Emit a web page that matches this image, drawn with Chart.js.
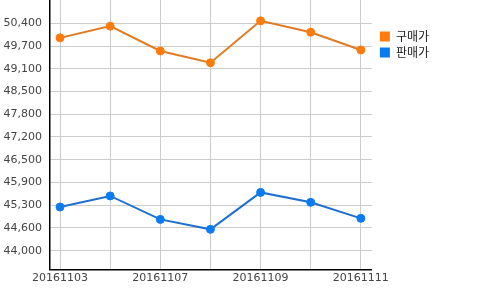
<!DOCTYPE html>
<html>
<head>
<meta charset="utf-8">
<script src="https://cdn.jsdelivr.net/npm/chart.js@4/dist/chart.umd.min.js"></script>
<style>
  html, body { margin: 0; padding: 0; background: #fff; }
  #wrap { width: 500px; height: 290px; }
</style>
</head>
<body>
<div id="wrap"><canvas id="myLineChart" width="500" height="290"></canvas></div>
<script>
// dates and prices
const dates = ['20161103', '20161104', '20161107', '20161108', '20161109', '20161110', '20161111'];
const buyPrice = [49990, 50320, 49620, 49290, 50470, 50150, 49650];
const sellPrice = [45230, 45540, 44880, 44600, 45640, 45360, 44910];
const yTickLabels = [44000, 44600, 45300, 45900, 46500, 47200, 47800, 48500, 49100, 49700, 50400];

// ticks sit evenly between first and last label
const yStep = (yTickLabels[yTickLabels.length - 1] - yTickLabels[0]) / (yTickLabels.length - 1);

const toPoints = arr => arr.map((v, i) => ({ x: i, y: v }));

const tickFont = { family: 'DejaVu Sans', size: 11 };

const lineData = {
  datasets: [{
    label: '구매가',
    data: toPoints(buyPrice),
    borderColor: '#e07b22',
    backgroundColor: '#ff7b0c',
    pointBackgroundColor: '#ff7b0c',
    pointBorderColor: '#ff7b0c',
    borderWidth: 2,
    pointRadius: 4,
    pointBorderWidth: 1,
    tension: 0
  }, {
    label: '판매가',
    data: toPoints(sellPrice),
    borderColor: '#1f6fcf',
    backgroundColor: '#0a7cf2',
    pointBackgroundColor: '#0a7cf2',
    pointBorderColor: '#0a7cf2',
    borderWidth: 2,
    pointRadius: 4,
    pointBorderWidth: 1,
    tension: 0
  }]
};

// nudge legend a bit right of the plot
const legendShift = {
  id: 'legendShift',
  afterLayout: chart => {
    chart.legend.left += 4;
    chart.legend.right += 4;
  }
};

const configLine = {
  type: 'line',
  data: lineData,
  plugins: [legendShift],
  options: {
    responsive: false,
    animation: false,
    layout: { autoPadding: false, padding: { top: 0, right: 65, bottom: 3.5 } },
    scales: {
      x: {
        type: 'linear',
        min: -0.2,
        max: dates.length - 1 + 0.22,
        afterBuildTicks: scale => {
          scale.ticks = dates.map((d, i) => ({ value: i }));
        },
        afterFit: scale => {
          scale.paddingLeft = 0;
          scale.paddingRight = 0;
        },
        ticks: {
          font: tickFont,
          color: '#444',
          padding: 2,
          maxRotation: 0,
          autoSkip: false,
          callback: (v, i) => (i % 2 === 0 ? dates[i] : '')
        },
        grid: { color: '#cccccc', drawTicks: false },
        border: { color: '#000', width: 1.5 }
      },
      y: {
        min: yTickLabels[0] - yStep * 0.82,
        max: yTickLabels[yTickLabels.length - 1] + yStep * 1.025,
        afterBuildTicks: scale => {
          scale.ticks = yTickLabels.map((t, i) => ({ value: yTickLabels[0] + i * yStep }));
        },
        afterFit: scale => {
          scale.width = 50;
          scale.paddingTop = 0;
          scale.paddingBottom = 0;
        },
        ticks: {
          font: tickFont,
          color: '#444',
          padding: 8,
          callback: (v, i) => yTickLabels[i].toLocaleString('en-US')
        },
        grid: { color: '#cccccc', drawTicks: false },
        border: { color: '#000', width: 1.5 }
      }
    },
    plugins: {
      legend: {
        position: 'right',
        align: 'start',
        title: { display: true, text: ' ', padding: { top: 12, bottom: 0 }, font: { size: 12 } },
        labels: {
          boxWidth: 10,
          boxHeight: 10,
          padding: 4,
          color: '#222',
          font: { family: 'Noto Sans CJK KR', size: 12 },
          generateLabels: chart => Chart.defaults.plugins.legend.labels.generateLabels(chart).map(l => {
            l.lineWidth = 0;
            l.strokeStyle = l.fillStyle;
            return l;
          })
        }
      },
      tooltip: { enabled: false }
    }
  }
};

var priceChart = document.getElementById('myLineChart');
let chart1 = new Chart(priceChart, configLine);
</script>
</body>
</html>
